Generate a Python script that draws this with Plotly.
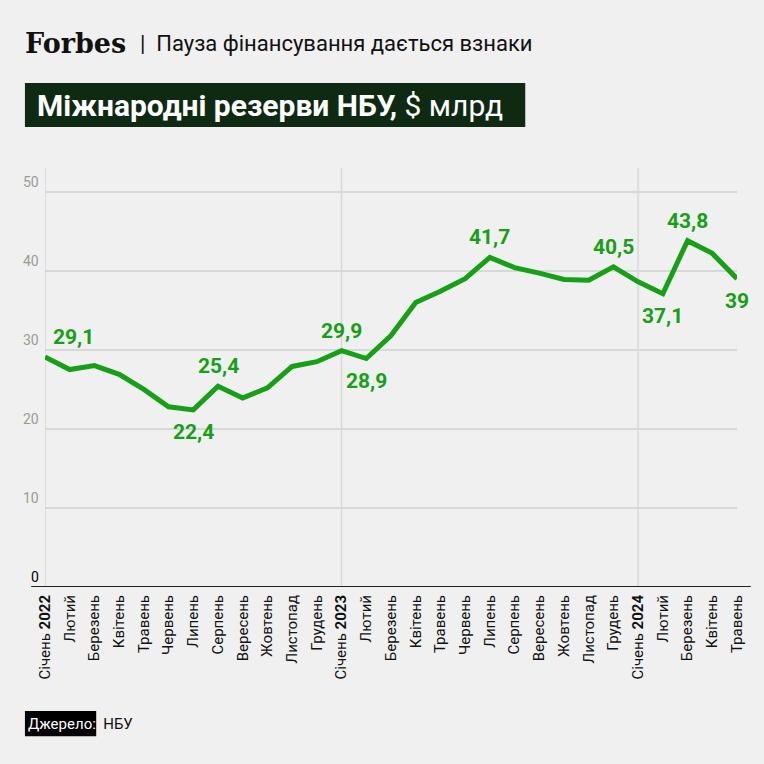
import plotly.graph_objects as go

months = ["Січень <b>2022</b>","Лютий","Березень","Квітень","Травень","Червень","Липень","Серпень","Вересень","Жовтень","Листопад","Грудень",
          "Січень <b>2023</b>","Лютий","Березень","Квітень","Травень","Червень","Липень","Серпень","Вересень","Жовтень","Листопад","Грудень",
          "Січень <b>2024</b>","Лютий","Березень","Квітень","Травень"]
values = [29.1,27.5,28.0,26.9,25.0,22.8,22.4,25.4,23.9,25.2,27.9,28.5,
          29.9,28.9,31.8,36.0,37.4,39.0,41.7,40.4,39.7,38.9,38.8,40.5,
          38.6,37.1,43.8,42.2,39.0]
labels = {0:("29,1","above"),6:("22,4","below"),7:("25,4","above"),12:("29,9","above"),13:("28,9","below"),
          18:("41,7","above"),23:("40,5","above"),25:("37,1","below"),26:("43,8","above"),28:("39","below")}
yticks = [0,10,20,30,40,50]

green = "#15a015"
idx = list(range(len(months)))
fig = go.Figure(go.Scatter(x=idx, y=values, mode="lines", line=dict(color=green, width=5), cliponaxis=False))

ann = []
for i,(t,pos) in labels.items():
    dx = 28 if i == 0 else 0
    ann.append(dict(x=i, y=values[i], text=t, showarrow=False, xshift=dx,
                    yshift=20 if pos=="above" else -22,
                    font=dict(family="Roboto", size=21, color=green, weight="bold")))
for v in yticks:
    ann.append(dict(xref="paper", x=0, y=v, text=str(v), showarrow=False, xanchor="right", yanchor="bottom",
                    xshift=-4, font=dict(family="Roboto", size=14, color="#000" if v==0 else "#9a9a9a")))
fig.update_layout(
    width=764, height=764, paper_bgcolor="#f0f0f0", plot_bgcolor="#f0f0f0",
    margin=dict(l=45, r=27, t=168, b=177), showlegend=False,
    xaxis=dict(range=[0,28], tickvals=idx, ticktext=months, tickangle=-90, showgrid=False, zeroline=False,
               tickfont=dict(family="Roboto", size=15, color="#111"), ticks="", ticklabelstandoff=4),
    yaxis=dict(range=[0,53], tickvals=yticks, showticklabels=False, gridcolor="#d8d8d8", gridwidth=1.5, zeroline=False),
    annotations=ann,
    shapes=[dict(type="line", xref="x", yref="paper", x0=i, x1=i, y0=0, y1=1, line=dict(color="#d8d8d8", width=1.5), layer="below") for i in (0,12,24)]
          + [dict(type="line", xref="paper", yref="y", x0=-0.02, x1=1.02, y0=0, y1=0, line=dict(color="#222", width=2)),
             dict(type="rect", xref="paper", yref="paper", x0=-0.029, x1=0.694, y0=1.098, y1=1.203, fillcolor="#0e2a12", line=dict(width=0), layer="below"),
             dict(type="rect", xref="paper", yref="paper", x0=-0.029, x1=0.074, y0=-0.356, y1=-0.296, fillcolor="#000", line=dict(width=0))],
)
fig.add_annotation(xref="paper", yref="paper", x=-0.032, y=1.298, xanchor="left", yanchor="middle", showarrow=False,
                   text="<b>Forbes</b>", font=dict(family="DejaVu Serif", size=27, color="#111"))
fig.add_annotation(xref="paper", yref="paper", x=0.135, y=1.298, xanchor="left", yanchor="middle", showarrow=False,
                   text="|  Пауза фінансування дається взнаки", font=dict(family="Roboto", size=22, color="#111"))
fig.add_annotation(xref="paper", yref="paper", x=-0.015, y=1.15, xanchor="left", yanchor="middle", showarrow=False,
                   text="<b>Міжнародні резерви НБУ,</b> $ млрд", font=dict(family="Roboto", size=30, color="#fff"))
fig.add_annotation(xref="paper", yref="paper", x=-0.027, y=-0.326, xanchor="left", yanchor="middle", showarrow=False,
                   text="<span style='color:#fff'>Джерело:</span>  НБУ", font=dict(family="Roboto", size=15, color="#111"))
fig.write_html("out.html", config={"displayModeBar": False})
with open("out.html", encoding="utf-8") as f:
    h = f.read()
h = h.replace("<body>", "<body style='margin:0;overflow:hidden'>", 1)
with open("out.html", "w", encoding="utf-8") as f:
    f.write(h)
